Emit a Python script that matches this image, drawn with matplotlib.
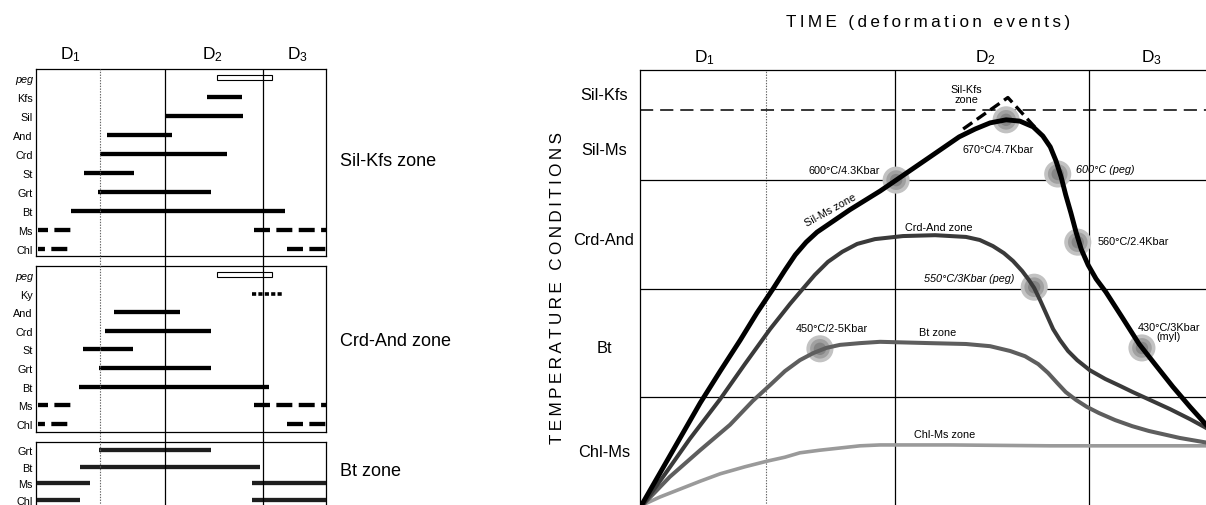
import matplotlib
matplotlib.use("Agg")
import matplotlib.pyplot as plt

plt.rcParams['font.family'] = ['Liberation Sans', 'DejaVu Sans']
plt.rcParams['mathtext.fontset'] = 'custom'
plt.rcParams['mathtext.rm'] = 'Liberation Sans'
plt.rcParams['mathtext.it'] = 'Liberation Sans:italic'
plt.rcParams['mathtext.default'] = 'rm'
plt.rcParams['lines.scale_dashes'] = False

W, H = 1206, 506

# ---------------- data ----------------
# time axis (arbitrary units 0-10) shared by both panels
phase_dotted = 2.2
phase_solid = [4.45, 7.83]
phase_labels = ['D$_1$', 'D$_2$', 'D$_3$']
phase_label_pos = [1.2, 6.1, 9.0]

# left panel: mineral growth bars
p1_rows = ['peg', 'Kfs', 'Sil', 'And', 'Crd', 'St', 'Grt', 'Bt', 'Ms', 'Chl']
p1_seg_row = ['peg', 'Kfs', 'Sil', 'And', 'Crd', 'St', 'Grt', 'Bt', 'Ms', 'Ms', 'Chl', 'Chl']
p1_seg_start = [6.24, 5.90, 4.45, 2.45, 2.20, 1.66, 2.14, 1.21, 0.07, 7.52, 0.07, 8.66]
p1_seg_end = [8.14, 7.10, 7.14, 4.69, 6.59, 3.38, 6.03, 8.59, 1.24, 10.0, 1.10, 10.0]
p1_seg_kind = ['open', 'solid', 'solid', 'solid', 'solid', 'solid', 'solid', 'solid',
               'dashL', 'dashR', 'dashL2', 'dashR']

p2_rows = ['peg', 'Ky', 'And', 'Crd', 'St', 'Grt', 'Bt', 'Ms', 'Chl']
p2_seg_row = ['peg', 'Ky', 'And', 'Crd', 'St', 'Grt', 'Bt', 'Ms', 'Ms', 'Chl', 'Chl']
p2_seg_start = [6.24, 7.45, 2.69, 2.38, 1.62, 2.17, 1.48, 0.07, 7.52, 0.07, 8.66]
p2_seg_end = [8.14, 8.48, 4.97, 6.03, 3.34, 6.03, 8.03, 1.28, 10.0, 1.10, 10.0]
p2_seg_kind = ['open', 'dot', 'solid', 'solid', 'solid', 'solid', 'solid',
               'dashL', 'dashR', 'dashL2', 'dashR']

p3_rows = ['Grt', 'Bt', 'Ms', 'Chl']
p3_seg_row = ['Grt', 'Bt', 'Ms', 'Ms', 'Chl', 'Chl']
p3_seg_start = [2.17, 1.52, 0.03, 7.45, 0.03, 7.45]
p3_seg_end = [6.03, 7.72, 1.86, 10.0, 1.52, 10.0]
p3_seg_kind = ['solid3'] * 6

zone_names = ['Sil-Kfs zone', 'Crd-And zone', 'Bt zone']

# right panel: schematic temperature paths
level_lines_solid = [7.48, 4.99, 2.52]
level_line_dashed = 9.08
level_labels = ['Sil-Kfs', 'Sil-Ms', 'Crd-And', 'Bt', 'Chl-Ms']
level_label_pos = [9.43, 8.17, 6.13, 3.64, 1.26]

silms_t = [0.03, 0.35, 0.70, 1.05, 1.40, 1.75, 2.04, 2.32, 2.53, 2.71, 2.90, 3.09, 3.37,
           3.66, 4.19, 4.47, 5.06, 5.57, 5.85, 6.11, 6.39, 6.63, 6.86, 7.03, 7.16, 7.26,
           7.35, 7.43, 7.52, 7.61, 7.70, 7.82, 7.96, 8.13, 8.41, 8.71, 9.01, 9.30, 9.60, 9.95]
silms_v = [0.05, 0.78, 1.58, 2.38, 3.11, 3.82, 4.44, 4.99, 5.42, 5.77, 6.06, 6.29, 6.54,
           6.80, 7.23, 7.48, 8.01, 8.47, 8.65, 8.79, 8.86, 8.83, 8.70, 8.49, 8.24, 7.92,
           7.55, 7.14, 6.73, 6.29, 5.90, 5.54, 5.22, 4.92, 4.35, 3.73, 3.23, 2.75, 2.29, 1.78]

crdand_t = [0.05, 0.44, 0.87, 1.40, 1.83, 2.27, 2.62, 2.84, 3.05, 3.28, 3.53, 3.79, 4.10,
            4.59, 5.15, 5.69, 5.93, 6.16, 6.35, 6.51, 6.67, 6.79, 6.88, 6.98, 7.09, 7.21,
            7.33, 7.47, 7.63, 7.85, 8.12, 8.38, 8.60, 8.90, 9.25, 9.60, 9.95]
crdand_v = [0.05, 0.76, 1.56, 2.47, 3.27, 4.07, 4.65, 4.99, 5.31, 5.61, 5.84, 6.02, 6.13,
            6.20, 6.22, 6.18, 6.11, 5.97, 5.81, 5.63, 5.40, 5.19, 5.01, 4.74, 4.42, 4.07,
            3.82, 3.57, 3.36, 3.13, 2.93, 2.77, 2.63, 2.45, 2.24, 2.01, 1.76]

bt_t = [0.05, 0.52, 1.05, 1.57, 1.97, 2.27, 2.53, 2.79, 3.02, 3.25, 3.49, 3.84, 4.19, 5.06,
        5.69, 6.11, 6.46, 6.72, 6.95, 7.12, 7.28, 7.43, 7.61, 7.80, 8.01, 8.29, 8.59, 8.88,
        9.42, 9.95]
bt_v = [0.05, 0.69, 1.30, 1.88, 2.43, 2.79, 3.11, 3.36, 3.52, 3.64, 3.71, 3.75, 3.78, 3.75,
        3.73, 3.68, 3.57, 3.45, 3.27, 3.07, 2.84, 2.63, 2.45, 2.29, 2.15, 1.99, 1.85, 1.74,
        1.58, 1.46]

chlms_t = [0.05, 0.35, 0.70, 1.05, 1.40, 1.83, 2.22, 2.53, 2.79, 3.14, 3.49, 3.84, 4.19,
           5.41, 7.16, 9.95]
chlms_v = [0.05, 0.23, 0.41, 0.59, 0.76, 0.92, 1.05, 1.14, 1.24, 1.30, 1.35, 1.40, 1.42,
           1.42, 1.40, 1.40]

silkfs_cap_t = [5.64, 6.42, 6.92]
silkfs_cap_v = [8.65, 9.37, 8.65]

spot_t = [4.47, 6.39, 7.29, 7.64, 6.88, 3.14, 8.76]
spot_v = [7.48, 8.86, 7.62, 6.06, 5.03, 3.62, 3.64]

notes = [
    ('600°C/4.3Kbar', 4.19, 7.71, 'right', 'normal', 0),
    ('Sil-Ms zone', 3.32, 6.80, 'center', 'normal', 29),
    ('Sil-Kfs\nzone', 5.69, 9.45, 'center', 'normal', 0),
    ('670°C/4.7Kbar', 6.25, 8.19, 'center', 'normal', 0),
    ('600°C (peg)', 7.61, 7.73, 'left', 'italic', 0),
    ('Crd-And zone', 5.22, 6.41, 'center', 'normal', 0),
    ('560°C/2.4Kbar', 7.99, 6.09, 'left', 'normal', 0),
    ('550°C/3Kbar (peg)', 6.54, 5.24, 'right', 'italic', 0),
    ('450°C/2-5Kbar', 3.35, 4.10, 'center', 'normal', 0),
    ('Bt zone', 5.20, 4.00, 'center', 'normal', 0),
    ('430°C/3Kbar\n(myl)', 9.23, 4.02, 'center', 'normal', 0),
    ('Chl-Ms zone', 5.32, 1.67, 'center', 'normal', 0),
]


def rect(l, t, r, b):
    return [l / W, 1 - b / H, (r - l) / W, (b - t) / H]


def spaced(s):
    return '\u2009'.join(list(s))


fig = plt.figure(figsize=(W / 100, H / 100), dpi=100)

BAR_LW = 3.1


def draw_panel(ax, rows, seg_row, seg_start, seg_end, seg_kind, top_pad, bot_pad):
    n = len(rows)
    ax.set_xlim(0, 10)
    ax.set_ylim(n - 1 + bot_pad, -top_pad)
    for r, a, b, k in zip(seg_row, seg_start, seg_end, seg_kind):
        y = rows.index(r)
        if k == 'open':
            ax.barh(y, b - a, left=a, height=0.27, facecolor='white',
                    edgecolor='black', linewidth=0.8, zorder=3)
        elif k == 'solid':
            ax.plot([a, b], [y, y], color='black', lw=BAR_LW, solid_capstyle='butt', zorder=3)
        elif k == 'solid3':
            ax.plot([a, b], [y, y], color='#1e1e1e', lw=BAR_LW, solid_capstyle='butt', zorder=3)
        elif k == 'dot':
            ax.plot([a, b], [y, y], color='black', lw=2.6, dash_capstyle='butt',
                    linestyle=(0, (3.0, 1.6)), zorder=3)
        elif k == 'dashL':
            ax.plot([a, b], [y, y], color='black', lw=BAR_LW, dash_capstyle='butt',
                    linestyle=(4.3, (11.5, 4.6)), zorder=3)
        elif k == 'dashL2':
            ax.plot([a, b], [y, y], color='black', lw=BAR_LW, dash_capstyle='butt',
                    linestyle=(6.5, (11.5, 4.6)), zorder=3)
        elif k == 'dashR':
            ax.plot([a, b], [y, y], color='black', lw=BAR_LW, dash_capstyle='butt',
                    linestyle=(0, (11.5, 4.6)), zorder=3)
    ax.set_xticks([])
    ax.set_yticks(range(n))
    ax.set_yticklabels(rows, fontsize=7.8)
    for lab in ax.get_yticklabels():
        if lab.get_text() == 'peg':
            lab.set_fontstyle('italic')
    ax.tick_params(axis='y', length=0, pad=2.2)
    for sp in ax.spines.values():
        sp.set_linewidth(0.9)
    ax.patch.set_alpha(0)


ax1 = fig.add_axes(rect(36, 70, 326, 257))
draw_panel(ax1, p1_rows, p1_seg_row, p1_seg_start, p1_seg_end, p1_seg_kind, 0.47, 0.37)
ax2 = fig.add_axes(rect(36, 267, 326, 433))
draw_panel(ax2, p2_rows, p2_seg_row, p2_seg_start, p2_seg_end, p2_seg_kind, 0.48, 0.43)
ax3 = fig.add_axes(rect(36, 443, 326, 514))
draw_panel(ax3, p3_rows, p3_seg_row, p3_seg_start, p3_seg_end, p3_seg_kind, 0.48, 0.78)

# overlay for vertical phase lines crossing all left panels
axo = fig.add_axes(rect(36, 70, 326, 514))
axo.set_xlim(0, 10)
axo.set_ylim(0, 1)
axo.axis('off')
axo.axvline(phase_dotted, color='#666666', lw=0.8, linestyle=(0, (1, 1)))
for x in phase_solid:
    axo.axvline(x, color='black', lw=0.9)

for lab, x in zip(phase_labels, phase_label_pos):
    ax1.text(x, -0.47 - 0.8, lab, fontsize=12.5, ha='center', va='center')

for name, ypx in zip(zone_names, [162, 342, 472]):
    fig.text(340 / W, 1 - ypx / H, name, fontsize=13, ha='left', va='center')

# ---------------- right panel ----------------
ax = fig.add_axes(rect(640, 71, 1213, 508))
ax.set_xlim(0, 10)
ax.set_ylim(0, 10)
ax.set_xticks([])
ax.set_yticks([])
ax.spines['right'].set_visible(False)
ax.spines['bottom'].set_visible(False)
ax.spines['top'].set_linewidth(0.9)
ax.spines['left'].set_linewidth(0.9)
ax.patch.set_alpha(0)

ax.axvline(phase_dotted, color='#666666', lw=0.8, linestyle=(0, (1, 1)), zorder=1)
for x in phase_solid:
    ax.axvline(x, color='black', lw=0.9, zorder=1)
for y in level_lines_solid:
    ax.axhline(y, color='black', lw=0.9, zorder=1)
ax.axhline(level_line_dashed, color='black', lw=1.1, linestyle=(0, (9.5, 5)), zorder=1)

for lab, y in zip(level_labels, level_label_pos):
    ax.text(-0.63, y, lab, fontsize=11.8, ha='center', va='center', clip_on=False)

for lab, x in zip(phase_labels, phase_label_pos):
    ax.text(x - 0.08, 10.3, lab, fontsize=12.5, ha='center', va='center', clip_on=False)

# gray spots
ax.scatter(spot_t, spot_v, s=380, color='#c2c2c2', edgecolors='none', zorder=2)
ax.scatter(spot_t, spot_v, s=200, color='#a0a0a0', edgecolors='none', zorder=2)
ax.scatter(spot_t, spot_v, s=80, color='#858585', edgecolors='none', zorder=2)

ax.plot(chlms_t, chlms_v, color='#9a9a9a', lw=2.6, solid_joinstyle='round',
        solid_capstyle='round', zorder=3)
ax.plot(bt_t, bt_v, color='#5e5e5e', lw=2.9, solid_joinstyle='round',
        solid_capstyle='round', zorder=3)
ax.plot(crdand_t, crdand_v, color='#3a3a3a', lw=2.9, solid_joinstyle='round',
        solid_capstyle='round', zorder=3)
ax.plot(silms_t, silms_v, color='black', lw=3.5, solid_joinstyle='round',
        solid_capstyle='round', zorder=4)
ax.plot(silkfs_cap_t, silkfs_cap_v, color='black', lw=2.4, linestyle=(0, (8, 4)),
        dash_capstyle='butt', zorder=4)

for txt, x, y, ha, style, rot in notes:
    ax.text(x, y, txt, fontsize=7.8, ha=ha, va='center', fontstyle=style,
            rotation=rot, rotation_mode='anchor', linespacing=0.95, zorder=5)

# axis titles with letter spacing
fig.text(928 / W, 1 - 23 / H, spaced('TIME (deformation events)'), fontsize=12.3,
         ha='center', va='center')
fig.text(557 / W, 1 - 288 / H, spaced('TEMPERATURE CONDITIONS'), fontsize=12.3,
         ha='center', va='center', rotation=90)

fig.savefig('out.png', dpi=100)
